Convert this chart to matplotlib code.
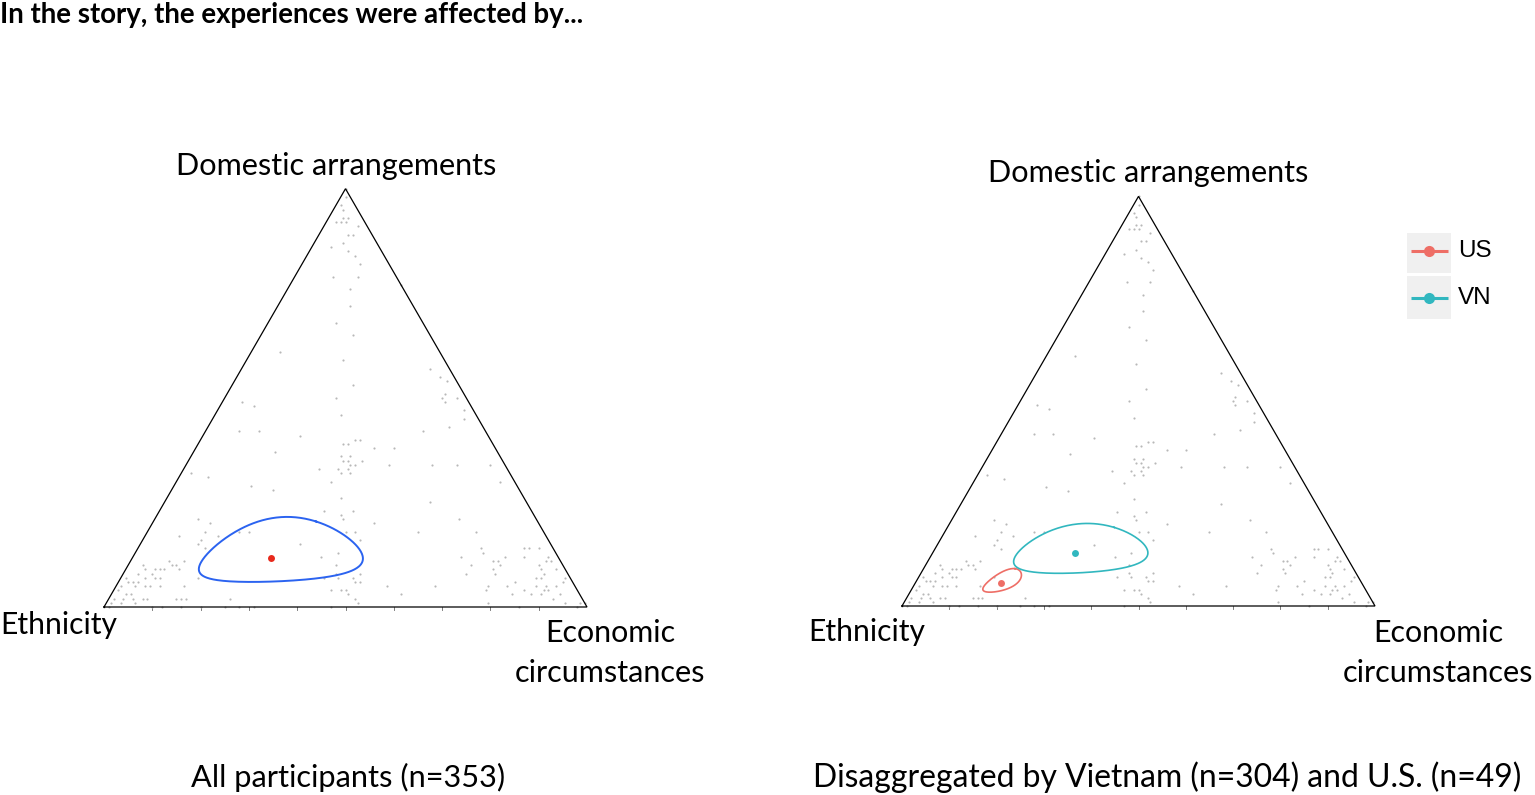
import numpy as np
import matplotlib
matplotlib.use("Agg")
import matplotlib.pyplot as plt
from matplotlib.patches import Rectangle

# ---------------- data (percent shares; ethnicity = remainder) ----------------
domestic_share = [29, 28, 21, 20, 18, 17, 18, 18, 17, 16, 15, 14, 11, 11, 10, 9, 10, 9, 9, 9,
                  10, 9, 8, 8, 7, 7, 6, 6, 6, 7, 5, 7, 5, 5, 5, 5, 4, 3, 3, 2,
                  2, 1, 2, 2, 2, 1, 1, 0, 0, 0, 0, 5, 2, 2, 2, 0, 2, 0, 0, 0,
                  0, 7, 30, 26, 23, 23, 22, 21, 25, 20, 18, 18, 18, 16, 15, 13, 12, 10, 8, 7,
                  6, 6, 7, 8, 7, 4, 4, 4, 3, 2, 1, 0, 5, 3, 5, 30, 21, 18, 14, 13,
                  12, 14, 14, 14, 12, 12, 11, 11, 10, 9, 10, 8, 8, 12, 11, 11, 10, 9, 8, 9,
                  7, 7, 6, 5, 5, 4, 5, 4, 4, 5, 5, 6, 7, 3, 3, 3, 2, 3, 4, 1,
                  1, 1, 1, 0, 0, 61, 59, 53, 50, 46, 49, 48, 42, 42, 41, 37, 57, 55, 54, 51,
                  50, 49, 50, 47, 45, 43, 42, 38, 40, 40, 38, 39, 39, 36, 35, 36, 35, 34, 35, 33,
                  34, 33, 32, 32, 33, 34, 34, 34, 32, 31, 34, 100, 98, 96, 95, 93, 93, 92, 92, 92,
                  91, 89, 89, 87, 86, 85, 84, 82, 79, 79, 76, 72, 68, 65, 77]
economic_share = [16, 21, 9, 12, 12, 15, 19, 21, 7, 12, 12, 14, 11, 8, 10, 11, 9, 8, 7, 6,
                  3, 4, 3, 6, 7, 5, 4, 3, 2, 1, 1, 8, 7, 9, 6, 4, 1, 3, 4, 3,
                  1, 1, 7, 8, 5, 6, 3, 1, 0, 12, 10, 14, 14, 15, 16, 20, 25, 31, 28, 25,
                  16, 16, 32, 36, 34, 40, 38, 39, 55, 46, 41, 43, 56, 45, 33, 42, 39, 43, 49, 48,
                  49, 50, 45, 44, 42, 45, 47, 48, 49, 51, 52, 47, 56, 60, 66, 67, 63, 68, 71, 72,
                  68, 80, 81, 83, 77, 81, 75, 76, 71, 76, 77, 77, 71, 86, 86, 87, 85, 86, 87, 89,
                  86, 87, 82, 81, 77, 85, 87, 89, 90, 89, 91, 92, 92, 93, 89, 87, 92, 83, 77, 79,
                  95, 98, 99, 98, 86, 6, 20, 25, 23, 26, 4, 7, 11, 7, 20, 17, 39, 42, 44, 45,
                  45, 46, 48, 51, 52, 50, 45, 41, 32, 33, 37, 30, 31, 31, 32, 33, 33, 35, 36, 32,
                  34, 34, 35, 33, 28, 51, 56, 63, 2, 6, 42, 0, 1, 1, 2, 4, 3, 3, 2, 4,
                  7, 7, 6, 6, 4, 8, 10, 12, 8, 13, 13, 15, 14, 19, 23]

# overall mean composition (ethnicity, domestic, economic, %) and log-ratio covariance
all_mean = [59.6, 11.7, 28.7]
all_cov = [[0.672, 0.345], [0.345, 0.800]]

# by country
group_labels = ["US", "VN"]
group_means = [[76.3, 5.6, 18.1], [57.0, 12.9, 30.1]]
group_covs = [[[0.305, 0.071], [0.071, 0.0615]],
              [[0.386, 0.238], [0.238, 0.533]]]
group_colors = ["#EE6E66", "#31B7BF"]

vertex_top = "Domestic arrangements"
vertex_left = "Ethnicity"
vertex_right = "Economic\ncircumstances"
title = "In the story, the experiences were affected by..."
caption_left = "All participants (n=353)"
caption_right = "Disaggregated by Vietnam (n=304) and U.S. (n=49)"

# ---------------- helpers ----------------
H3 = np.sqrt(3) / 2


def to_xy(e, d, c):
    e, d, c = np.asarray(e, float), np.asarray(d, float), np.asarray(c, float)
    s = e + d + c
    d, c = d / s, c / s
    return c + d / 2, d * H3


def ellipse_xy(mean, cov, n=300):
    e, d, c = mean
    m = np.array([np.log(d / e), np.log(c / e)])
    L = np.linalg.cholesky(np.array(cov))
    t = np.linspace(0, 2 * np.pi, n)
    a = m[:, None] + L @ np.vstack([np.cos(t), np.sin(t)])
    ee = np.ones_like(a[0])
    dd = np.exp(a[0])
    cc = np.exp(a[1])
    return to_xy(ee, dd, cc)


W, H = 1535, 795
fig = plt.figure(figsize=(W / 100, H / 100), dpi=100)
fig.patch.set_facecolor("white")

dom = np.array(domestic_share, float)
eco = np.array(economic_share, float)
eth = 100 - dom - eco
px, py = to_xy(eth, dom, eco)


def tern_axes(left, base, width):
    height = width * H3
    ax = fig.add_axes([left / W, (H - base) / H, width / W, height / H])
    ax.set_xlim(0, 1)
    ax.set_ylim(0, H3)
    ax.axis("off")
    ax.plot([0, 1, 0.5, 0], [0, 0, H3, 0], color="black", lw=0.9,
            clip_on=False, zorder=3, solid_joinstyle="miter")
    for v in np.arange(0.1, 0.95, 0.1):
        ax.plot([v, v], [0, -0.007], color="#666666", lw=0.6, clip_on=False)
    ax.scatter(px, py, s=2.4, color="#b8b8b8", linewidths=0, clip_on=False, zorder=2)
    return ax


axL = tern_axes(104, 607, 483)
ex, ey = ellipse_xy(all_mean, all_cov)
axL.plot(ex, ey, color="#2B63F0", lw=1.4, zorder=4)
mx, my = to_xy(*all_mean)
axL.plot([mx], [my], "o", color="#E8291C", ms=5, mec="none", zorder=5)

axR = tern_axes(902, 606, 473)
for lab, mean, cov, col in zip(group_labels, group_means, group_covs, group_colors):
    ex, ey = ellipse_xy(mean, cov)
    axR.plot(ex, ey, color=col, lw=1.2, zorder=4)
    mx, my = to_xy(*mean)
    axR.plot([mx], [my], "o", color=col, ms=5, mec="none", zorder=5)

# overlay in pixel coordinates for texts and legend
ov = fig.add_axes([0, 0, 1, 1])
ov.set_xlim(0, W)
ov.set_ylim(H, 0)
ov.axis("off")
ov.patch.set_alpha(0)

renderer = fig.canvas.get_renderer()
LAB = ["Lato", "DejaVu Sans"]


def put(x, y, s, target_w, ha="center", **kw):
    t = ov.text(x, y, s, fontsize=20, ha=ha, va="baseline", family=LAB, **kw)
    w = t.get_window_extent(renderer).width
    t.set_fontsize(20 * target_w / w)
    return t


put(0, 23, title, 584, ha="left", fontweight="bold")

put(336, 175, vertex_top, 322)
put(1148, 182, vertex_top, 322)
put(0, 634, vertex_left, 117, ha="left")
put(808, 641, vertex_left, 117, ha="left")
l1, l2 = vertex_right.split("\n")
put(610, 642, l1, 130)
put(609.5, 682, l2, 191)
put(1438, 642, l1, 130)
put(1437.5, 682, l2, 191)

put(348, 787, caption_left, 315)
put(1167, 787, caption_right, 710)

# legend (ggplot-like keys)
key_box = [(233, 40), (276, 43)]
key_line = [251, 298]
for i, (lab, col) in enumerate(zip(group_labels, group_colors)):
    y0, hh = key_box[i]
    ov.add_patch(Rectangle((1407, y0), 44, hh, facecolor="#F0F0F0", edgecolor="none"))
    yc = key_line[i]
    ov.plot([1410.5, 1447.5], [yc, yc], color=col, lw=2.2, solid_capstyle="butt")
    ov.plot([1429], [yc], "o", color=col, ms=8, mec="none")
    ov.text(1458, yc, lab, fontsize=17.5, ha="left", va="center",
            family=["Liberation Sans", "DejaVu Sans"])

fig.savefig("out.png", dpi=100, facecolor="white")
